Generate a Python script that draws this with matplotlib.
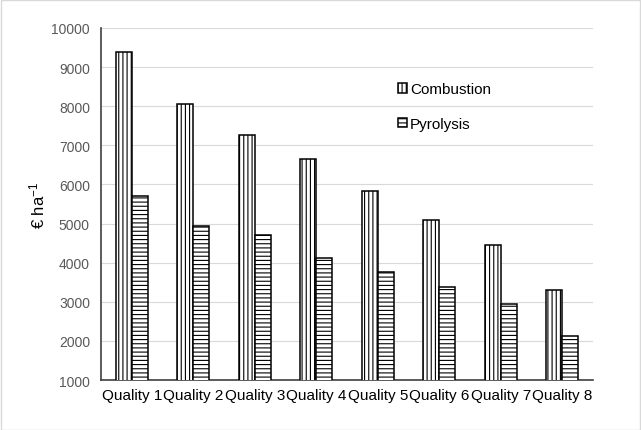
import matplotlib
matplotlib.use("Agg")
import matplotlib.pyplot as plt
import numpy as np
from matplotlib.patches import Rectangle

categories = ["Quality 1", "Quality 2", "Quality 3", "Quality 4",
              "Quality 5", "Quality 6", "Quality 7", "Quality 8"]
combustion = [9380, 8060, 7270, 6660, 5830, 5100, 4450, 3300]
pyrolysis = [5700, 4930, 4710, 4130, 3760, 3370, 2930, 2130]
yticks = list(range(1000, 10001, 1000))

plt.rcParams['font.family'] = ['Liberation Sans', 'DejaVu Sans']
plt.rcParams['mathtext.fontset'] = 'custom'
plt.rcParams['mathtext.rm'] = 'Liberation Sans'
plt.rcParams['mathtext.it'] = 'Liberation Sans'
plt.rcParams['hatch.linewidth'] = 0.8
fig = plt.figure(figsize=(6.41, 4.31), dpi=100)
ax = fig.add_axes([0.1576, 0.116, 0.7675, 0.817])

x = np.arange(len(categories))
w = 0.26
ax.bar(x - w / 2, combustion, w, bottom=0, color='white', edgecolor='black',
       hatch='||||', linewidth=1.1, label='Combustion', zorder=3)
ax.bar(x + w / 2, pyrolysis, w, bottom=0, color='white', edgecolor='black',
       hatch='----', linewidth=1.1, label='Pyrolysis', zorder=3)

ax.set_ylim(1000, 10000)
ax.set_xlim(-0.5, len(categories) - 0.5)
ax.set_yticks(yticks)
ax.set_xticks(x)
ax.set_xticklabels(categories, fontsize=11, color='black')
ax.tick_params(axis='y', length=0, labelsize=10, labelcolor='#595959', pad=8)
ax.tick_params(axis='x', length=0, pad=6)
ax.grid(axis='y', color='#d9d9d9', linewidth=0.8, zorder=0)
for s in ['top', 'right']:
    ax.spines[s].set_visible(False)
ax.spines['left'].set_color('#404040')
ax.spines['left'].set_linewidth(1.2)
ax.spines['bottom'].set_color('#404040')
ax.spines['bottom'].set_linewidth(1.2)
ax.set_ylabel('€ ha$^{\\mathrm{-1}}$', fontsize=12, labelpad=3)

leg = ax.legend(loc='upper left', bbox_to_anchor=(0.575, 0.885), frameon=False,
                fontsize=11, handlelength=0.6, handleheight=0.6,
                labelspacing=1.35, handletextpad=0.2)

fig.add_artist(Rectangle((0.001, 0.001), 0.997, 0.997, transform=fig.transFigure,
                         fill=False, edgecolor='#d9d9d9', linewidth=1))
fig.savefig('out.png', dpi=100)
